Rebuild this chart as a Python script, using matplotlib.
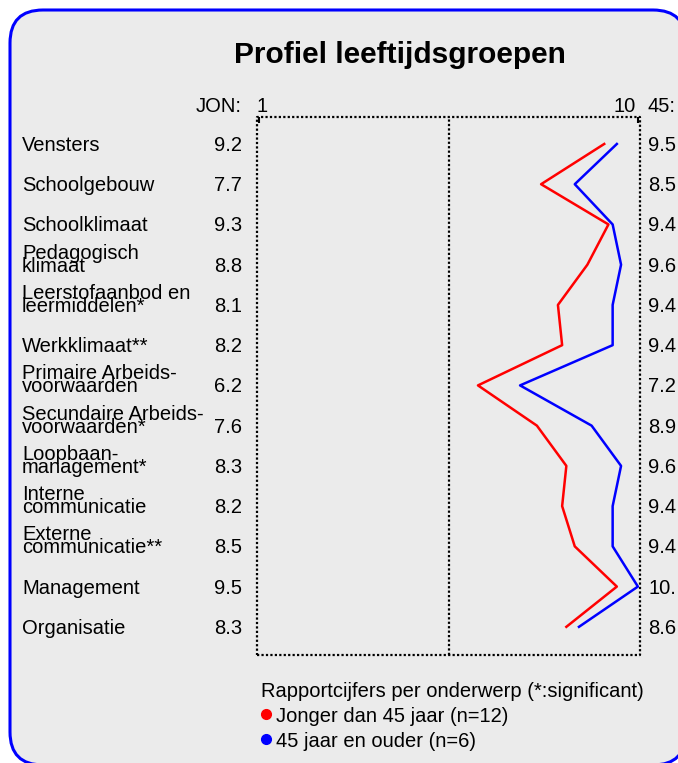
import matplotlib.pyplot as plt
from matplotlib.patches import FancyBboxPatch
from matplotlib.lines import Line2D
from matplotlib.transforms import blended_transform_factory, ScaledTranslation

plt.rcParams['font.family'] = ['Liberation Sans', 'DejaVu Sans']

topics = ["Vensters", "Schoolgebouw", "Schoolklimaat", "Pedagogisch\nklimaat",
          "Leerstofaanbod en\nleermiddelen*", "Werkklimaat**",
          "Primaire Arbeids-\nvoorwaarden", "Secundaire Arbeids-\nvoorwaarden*",
          "Loopbaan-\nmanagement*", "Interne\ncommunicatie",
          "Externe\ncommunicatie**", "Management", "Organisatie"]
jong = [9.2, 7.7, 9.3, 8.8, 8.1, 8.2, 6.2, 7.6, 8.3, 8.2, 8.5, 9.5, 8.3]
oud = [9.5, 8.5, 9.4, 9.6, 9.4, 9.4, 7.2, 8.9, 9.6, 9.4, 9.4, 10.0, 8.6]

W, H = 678, 763
fig = plt.figure(figsize=(W / 100, H / 100), dpi=100)
fx = lambda x: x / W
fy = lambda y: 1 - y / H

# rounded frame
box = FancyBboxPatch((0.10, -0.02), 6.76, 7.55,
                     boxstyle="round,pad=0,rounding_size=0.33",
                     transform=fig.dpi_scale_trans, facecolor="#ebebeb",
                     edgecolor="#0000ff", linewidth=2.2, zorder=-10)
fig.add_artist(box)

ax = fig.add_axes([fx(257), fy(655), fx(640) - fx(257), fy(117) - fy(655)])
ax.set_facecolor("none")
rows = list(range(len(topics)))
ax.set_xlim(0.95, 10.05)
ax.set_ylim(12.7, -0.67)
for s in ax.spines.values():
    s.set_visible(False)
dots = dict(color="black", linestyle=(0, (1, 1)), linewidth=1.6)
ax.plot([0, 1, 1, 0, 0], [0, 0, 1, 1, 0], transform=ax.transAxes,
        clip_on=False, **dots)
ax.axvline(5.5, **dots)
ax.set_xticks([1, 10])
ax.set_yticks([])
ax.tick_params(top=True, bottom=False, labelbottom=False, labeltop=False,
               direction="in", length=4, width=1.5)

ax.plot(jong, rows, color="#ff0000", linewidth=1.8, clip_on=False)
ax.plot(oud, rows, color="#0000ff", linewidth=1.8, clip_on=False)

fs = 14.5


def tr(dy_px):
    return blended_transform_factory(fig.transFigure, ax.transData) + \
        ScaledTranslation(0, -dy_px / 100, fig.dpi_scale_trans)


for i, (lab, a, b) in enumerate(zip(topics, jong, oud)):
    lines = lab.split("\n")
    first = 7 - 13 * (len(lines) - 1)
    for k, ln in enumerate(lines):
        ax.text(fx(22), i, ln, transform=tr(first + 13 * k), fontsize=fs,
                ha="left", va="baseline")
    ax.text(fx(242), i, f"{a:.1f}"[:3], transform=tr(7), fontsize=fs,
            ha="right", va="baseline")
    ax.text(fx(648), i, f"{b:.1f}"[:3], transform=tr(7), fontsize=fs,
            ha="left", va="baseline")

fig.text(fx(242), fy(112), "JON:", fontsize=fs, ha="right", va="baseline")
fig.text(fx(257), fy(112), "1", fontsize=fs, ha="left", va="baseline")
fig.text(fx(636), fy(112), "10", fontsize=fs, ha="right", va="baseline")
fig.text(fx(648), fy(112), "45:", fontsize=fs, ha="left", va="baseline")

fig.text(fx(400), fy(63), "Profiel leeftijdsgroepen", fontsize=21.5,
         fontweight="bold", ha="center", va="baseline")

fig.text(fx(261), fy(697), "Rapportcijfers per onderwerp (*:significant)",
         fontsize=fs, ha="left", va="baseline")
for y, c, t in [(714, "#ff0000", "Jonger dan 45 jaar (n=12)"),
                (739, "#0000ff", "45 jaar en ouder (n=6)")]:
    fig.add_artist(Line2D([fx(266)], [fy(y)], marker="o", markersize=7,
                          color=c, transform=fig.transFigure))
    fig.text(fx(276), fy(y + 8), t, fontsize=fs, ha="left", va="baseline")

fig.savefig("out.png", dpi=100)
